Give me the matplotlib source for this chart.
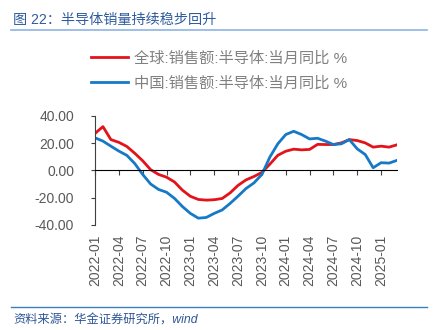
import matplotlib.pyplot as plt
import pandas as pd
from matplotlib.lines import Line2D
from matplotlib.ticker import FormatStrFormatter

months = pd.period_range('2022-01', '2025-03', freq='M').strftime('%Y-%m').tolist()

global_yoy = [27, 32, 22.5, 20.5, 17.5, 12.5, 7, 0.5, -3, -5,
              -8.5, -14.5, -19, -21.3, -21.8, -21.5, -20.6, -16.5, -11, -7,
              -4.5, -1.5, 4.5, 11, 14, 15.5, 15, 15.3, 19, 18.9,
              18.9, 20.1, 22.5, 21.8, 20.1, 17, 17.7, 17, 18.7]
china_yoy = [23.8, 21.4, 17.7, 14.1, 11, 5, -3, -10, -14, -16,
             -20.5, -26.5, -31.5, -35, -34.5, -31.5, -29, -24.2, -18.9, -13.3,
             -9.2, -3, 9.7, 19.4, 26.2, 28.6, 26.2, 23, 23.5, 21.4,
             18.9, 19.4, 22.5, 15.7, 11.6, 1.9, 5.6, 5.3, 7.3]

global_label = '全球:销售额:半导体:当月同比 %'
china_label = '中国:销售额:半导体:当月同比 %'
title = '图 22：半导体销量持续稳步回升'
source = '资料来源：华金证券研究所，wind'

plt.rcParams['font.family'] = ['Liberation Sans', 'Noto Sans CJK SC', 'DejaVu Sans']

fig = plt.figure(figsize=(4.36, 3.3), dpi=100)
ax = fig.add_axes([95 / 436, 1 - 225 / 330, (397 - 95) / 436, (225 - 115.7) / 330])

x = range(len(months))
ax.plot(x, global_yoy, color='#E3131B', lw=2, label=global_label)
ax.plot(x, china_yoy, color='#1679C6', lw=2, label=china_label)

ax.set_xlim(0, len(months) - 1)
ax.set_ylim(-40, 40)
ax.set_yticks([-40, -20, 0, 20, 40])
ax.yaxis.set_major_formatter(FormatStrFormatter('%.2f'))
ax.tick_params(axis='y', direction='out', length=3, pad=12, labelsize=10,
               labelcolor='#595959', color='#404040')

for side in ['top', 'right']:
    ax.spines[side].set_visible(False)
ax.spines['left'].set_color('#404040')
ax.spines['left'].set_linewidth(0.8)
ax.spines['bottom'].set_position(('data', 0))
ax.spines['bottom'].set_color('black')
ax.spines['bottom'].set_linewidth(0.8)

tick_idx = list(range(0, len(months), 3))
ax.set_xticks(tick_idx)
ax.tick_params(axis='x', direction='out', length=3.5, labelbottom=False, color='#404040')

sec = ax.secondary_xaxis('bottom')
sec.set_xticks(tick_idx, labels=[months[i] for i in tick_idx], rotation=90)
sec.tick_params(length=0, pad=7, labelsize=10, labelcolor='#595959')
sec.spines['bottom'].set_visible(False)

ax.legend(loc='center left', bbox_to_anchor=(91 / 436, 1 - 71 / 330),
          bbox_transform=fig.transFigure, frameon=False, fontsize=11,
          labelcolor='#808080', handlelength=2.4, handletextpad=0.4,
          labelspacing=0.7, borderpad=0, borderaxespad=0)

fig.text(13 / 436, 1 - 20 / 330, title, color='#2E5C9E', fontsize=10.2, va='center')
fig.add_artist(Line2D([11 / 436, 427 / 436], [1 - 30 / 330] * 2, color='#8EB4E3', lw=1.2))
fig.add_artist(Line2D([11 / 436, 427 / 436], [1 - 307 / 330] * 2, color='#3A7DC0', lw=1))
fig.text(13 / 436, 1 - 320.5 / 330, source, color='#2F5597', fontsize=8.8, va='center',
         style='italic')

fig.savefig('out.png', dpi=100)
